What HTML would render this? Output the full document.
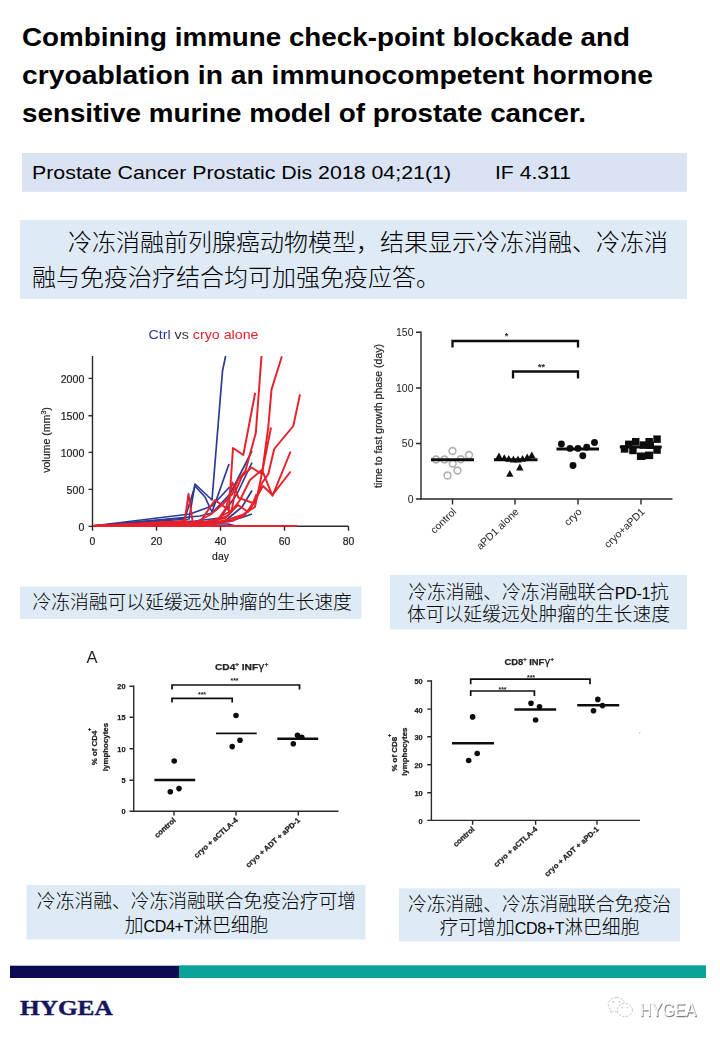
<!DOCTYPE html>
<html lang="zh">
<head>
<meta charset="utf-8">
<title>Combining immune check-point blockade and cryoablation</title>
<style>
html,body{margin:0;padding:0;background:#fff;}
body{width:720px;height:1040px;overflow:hidden;position:relative;}
svg{position:absolute;left:0;top:0;display:block;}
.lat{font-family:"Liberation Sans",sans-serif;}
.cjk{font-family:"Liberation Sans","Noto Sans CJK SC",sans-serif;font-weight:300;fill:#000;}
.ttl{font-family:"Liberation Sans",sans-serif;font-weight:bold;font-size:26px;fill:#000;}
.cap{font-size:18.8px;}
.en{font-size:16px;letter-spacing:-0.3px;}
.ax{stroke:#2a2a2a;stroke-width:1.4;fill:none;}
.tk{font-family:"Liberation Sans",sans-serif;fill:#222;}
.bd,.bd text{stroke:#222;stroke-width:0.25;}
.bd2 text{stroke:#222;stroke-width:0.2;}
</style>
</head>
<body>
<svg width="720" height="1040" viewBox="0 0 720 1040">
<defs><filter id="blur1" x="-5%" y="-5%" width="110%" height="110%"><feGaussianBlur stdDeviation="0.45"/></filter><filter id="blur2" x="-5%" y="-20%" width="110%" height="140%"><feGaussianBlur stdDeviation="0.35"/></filter></defs>
<!-- TITLE -->
<g id="title">
<text class="ttl" x="22" y="45.5" textLength="608" lengthAdjust="spacingAndGlyphs">Combining immune check-point blockade and</text>
<text class="ttl" x="22" y="83.5" textLength="631" lengthAdjust="spacingAndGlyphs">cryoablation in an immunocompetent hormone</text>
<text class="ttl" x="22" y="122" textLength="564" lengthAdjust="spacingAndGlyphs">sensitive murine model of prostate cancer.</text>
</g>
<!-- JOURNAL BOX -->
<g id="journal">
<rect x="22" y="153" width="665" height="38.8" fill="#dae3f3"/>
<text class="lat" x="32" y="179.3" font-size="19" fill="#000" textLength="419" lengthAdjust="spacingAndGlyphs">Prostate Cancer Prostatic Dis 2018 04;21(1)</text>
<text class="lat" x="495" y="179.3" font-size="19" fill="#000" textLength="76" lengthAdjust="spacingAndGlyphs">IF 4.311</text>
</g>
<!-- SUMMARY BOX -->
<g id="summary">
<rect x="20" y="220" width="667" height="78.9" fill="#deebf7"/>
<text class="cjk" x="68" y="251" font-size="24">冷冻消融前列腺癌动物模型，结果显示冷冻消融、冷冻消</text>
<text class="cjk" x="32" y="285.5" font-size="24">融与免疫治疗结合均可加强免疫应答。</text>
</g>
<!-- CHART1 -->
<g id="chart1" filter="url(#blur1)">
<text x="148.5" y="339" font-size="13.6" class="tk" textLength="110" lengthAdjust="spacingAndGlyphs"><tspan fill="#2b3a90">Ctrl</tspan><tspan fill="#333"> vs </tspan><tspan fill="#e8212b">cryo alone</tspan></text>
<g fill="none" stroke="#2d3a93" stroke-width="1.7" stroke-linejoin="round">
<polyline points="92,526 175,520 189,519 195,484 212,500 222.5,371 225.6,356"/>
<polyline points="92,526 185,518 195,486 205,497 212,512 229,464"/>
<polyline points="92,526 200,516 212,513 230,494 252,451"/>
<polyline points="92,526 195,521 220,518 237,494 252,462.5"/>
<polyline points="92,526 200,522 225,521 242,507 252,490.5"/>
<polyline points="92,526 205,524 233,520 242,517.5 252,514"/>
<polyline points="92,526 190,514 212,506 229.6,487"/>
<polyline points="92,526 200,524 228,524 236,526"/>
</g>
<g fill="none" stroke="#e8202a" stroke-width="1.95" stroke-linejoin="round">
<polyline points="92,526 181,522 185,519 188.5,494 193,524 215,520 228.7,512 233,448 243.3,455 255.2,392.7"/>
<polyline points="92,526 186,521 192,524 210,515 222,505 232.3,494 238,480 245.4,470.8 255.8,433 261.5,356"/>
<polyline points="92,526 186,523 200,522 215,500 231.4,512 235,492.4 242.2,476 251.5,467.5 262,474 268.3,427 271.5,389.6 281.9,356.3"/>
<polyline points="92,526 190,524 215,523 230,519 242.2,515 254.9,507 260.3,481.5 271,427.5"/>
<polyline points="92,526 195,525 225,518 238,505 248,512 256,500 262,483 268.3,474 274.2,449 293.3,426 300,394.4"/>
<polyline points="92,526 200,525 228,516 240,500 250,480 262,469.8 272.5,495.8 290.6,451.5"/>
<polyline points="92,526 205,525 232,521 245,515 255,500 263,486 272.5,495 290.6,471.5"/>
<polyline points="92,526 215,524 226,508 232.5,482.5 238.6,497.8 253,503 256.5,494"/>
<polyline points="92,526 297,526"/>
</g>
<g class="ax">
<path d="M92.5,356V527M297,526.3H348.5"/>
<path d="M88.5,526.4H92.5M88.5,489.4H92.5M88.5,452.4H92.5M88.5,415.7H92.5M88.5,378.4H92.5"/>
<path d="M92.5,526.3V530.8M156.5,526.3V530.8M220.5,526.3V530.8M284.5,526.3V530.8M348.5,526.3V530.8"/>
</g>
<g class="tk bd2" font-size="10.6" text-anchor="end">
<text x="84.3" y="530.6">0</text><text x="84.3" y="493.6">500</text><text x="84.3" y="456.6">1000</text><text x="84.3" y="420">1500</text><text x="84.3" y="382.6">2000</text>
</g>
<g class="tk bd2" font-size="10.4" text-anchor="middle">
<text x="92.5" y="544.5">0</text><text x="156.5" y="544.5">20</text><text x="220.5" y="544.5">40</text><text x="284.5" y="544.5">60</text><text x="348.5" y="544.5">80</text>
<text x="220.5" y="559.5">day</text>
<text transform="translate(49.6,440) rotate(-90)" font-size="10.6">volume (mm<tspan font-size="7" dy="-4">3</tspan><tspan dy="4">)</tspan></text>
</g>
</g>
<!-- CHART2 -->
<g id="chart2" filter="url(#blur1)">
<g class="ax" stroke-width="1.5">
<path d="M421,331.5V499.7M421,499H672.5"/>
<path d="M416,499H421M416,443.5H421M416,388H421M416,332.2H421"/>
<path d="M452.5,499V504.5M515,499V504.5M578,499V504.5M641,499V504.5"/>
</g>
<g class="tk" font-size="10.5" text-anchor="end">
<text x="413.5" y="503">0</text><text x="413.5" y="447.3">50</text><text x="413.5" y="392">100</text><text x="413.5" y="335.8">150</text>
</g>
<text class="tk" font-size="10.5" text-anchor="middle" transform="translate(382,416) rotate(-90)" textLength="144" lengthAdjust="spacingAndGlyphs" stroke="#222" stroke-width="0.2">time to fast growth phase (day)</text>
<g fill="none" stroke="#111" stroke-width="2.3">
<path d="M452.5,347.5V341H578V347.5"/>
<path d="M513,378.5V371.5H578V378.5"/>
</g>
<g class="tk" font-size="9" text-anchor="middle" font-weight="bold">
<text x="506.5" y="339">*</text><text x="541.5" y="369.5">**</text>
</g>
<g fill="#fff" stroke="#b0b0b0" stroke-width="1.6">
<circle cx="452.5" cy="451" r="3.4"/><circle cx="469" cy="455" r="3.4"/><circle cx="436" cy="459.5" r="3.4"/><circle cx="444.5" cy="459.5" r="3.4"/><circle cx="460.8" cy="459.3" r="3.4"/><circle cx="452.7" cy="463.6" r="3.4"/><circle cx="457.5" cy="470.5" r="3.4"/><circle cx="447.5" cy="475.5" r="3.4"/>
</g>
<g stroke="#111" stroke-width="2.9">
<path d="M431,459.8H474M494,459.8H537.5M556.5,449H599M619.8,447H661.7"/>
</g>
<g fill="#111">
<path d="M0,-4L3.7,2.8H-3.7Z" transform="translate(499,456.5)"/>
<path d="M0,-4L3.7,2.8H-3.7Z" transform="translate(504.3,458.2)"/>
<path d="M0,-4L3.7,2.8H-3.7Z" transform="translate(508.8,459)"/>
<path d="M0,-4L3.7,2.8H-3.7Z" transform="translate(513.4,459.6)"/>
<path d="M0,-4L3.7,2.8H-3.7Z" transform="translate(518,459.6)"/>
<path d="M0,-4L3.7,2.8H-3.7Z" transform="translate(522.6,459)"/>
<path d="M0,-4L3.7,2.8H-3.7Z" transform="translate(527.2,457.5)"/>
<path d="M0,-4L3.7,2.8H-3.7Z" transform="translate(531.8,455.5)"/>
<path d="M0,-4L3.7,2.8H-3.7Z" transform="translate(519.8,467.6)"/>
<path d="M0,-4L3.7,2.8H-3.7Z" transform="translate(509.8,474)"/>
<circle cx="561.4" cy="444" r="3.45"/><circle cx="594.5" cy="442.5" r="3.45"/><circle cx="570" cy="448.4" r="3.45"/><circle cx="578" cy="448.4" r="3.45"/><circle cx="586.7" cy="447.2" r="3.45"/><circle cx="582.8" cy="455.8" r="3.45"/><circle cx="573" cy="465.5" r="3.45"/>
<g><rect x="620.8" y="445.2" width="7.5" height="7.5"/><rect x="625" y="440.6" width="7.5" height="7.5"/><rect x="632" y="438" width="7.5" height="7.5"/><rect x="629.2" y="446.7" width="7.5" height="7.5"/><rect x="639.6" y="441.3" width="7.5" height="7.5"/><rect x="645.4" y="438" width="7.5" height="7.5"/><rect x="653.3" y="435.4" width="7.5" height="7.5"/><rect x="653.3" y="446.3" width="7.5" height="7.5"/><rect x="645" y="451.6" width="8.2" height="7.5"/><rect x="636.9" y="452.5" width="8.6" height="7.5"/><rect x="646.5" y="441.5" width="7.5" height="7.5"/></g>
</g>
<g class="tk" font-size="10.4" text-anchor="end">
<text transform="translate(457,512.5) rotate(-44)">control</text>
<text transform="translate(519.5,512.5) rotate(-44)">aPD1 alone</text>
<text transform="translate(582.5,512.5) rotate(-44)">cryo</text>
<text transform="translate(645.5,512.5) rotate(-44)">cryo+aPD1</text>
</g>
</g>
<!-- CAPTIONS ROW 1 -->
<g id="caps1">
<rect x="20" y="586.5" width="341.5" height="32.5" fill="#deebf7"/>
<text class="cjk cap" x="32.5" y="609">冷冻消融可以延缓远处肿瘤的生长速度</text>
<rect x="390" y="575" width="297" height="54.5" fill="#deebf7"/>
<text class="cjk cap" x="538.5" y="599" text-anchor="middle">冷冻消融、冷冻消融联合<tspan class="en">PD-1</tspan>抗</text>
<text class="cjk cap" x="538.5" y="621.4" text-anchor="middle">体可以延缓远处肿瘤的生长速度</text>
</g>
<!-- CHART3 -->
<g id="chart3" filter="url(#blur1)">
<text x="86.5" y="663.3" font-size="16.5" class="tk" fill="#222">A</text>
<text x="215" y="670.3" font-size="9.2" font-weight="bold" class="tk bd" textLength="53.3" lengthAdjust="spacingAndGlyphs">CD4<tspan font-size="5.6" dy="-4">+</tspan><tspan dy="4"> INF</tspan><tspan font-family="'DejaVu Sans',sans-serif" font-weight="normal" font-size="10">γ</tspan><tspan font-size="5.6" dy="-4">+</tspan></text>
<g class="ax" stroke-width="1.5">
<path d="M133.7,685.5V811.9M133.7,811.2H338.5"/>
<path d="M129.5,811.2H133.6M129.5,780.2H133.6M129.5,748.7H133.6M129.5,717.2H133.6M129.5,686.2H133.6"/>
<path d="M174,811V815.5M236,811V815.5M298.3,811V815.5"/>
</g>
<g class="tk bd" font-size="7.4" font-weight="bold" text-anchor="end">
<text x="125.6" y="814.1">0</text><text x="125.6" y="783.1">5</text><text x="125.6" y="751.6">10</text><text x="125.6" y="720.1">15</text><text x="125.6" y="689.1">20</text>
</g>
<g class="tk bd" font-size="7.9" font-weight="bold" text-anchor="middle">
<text transform="translate(96.7,748) rotate(-90)">% of CD4</text>
<text transform="translate(90.5,729.5) rotate(-90)" font-size="5.5">+</text>
<text transform="translate(107.5,747) rotate(-90)">lymphocytes</text>
</g>
<g fill="none" stroke="#111" stroke-width="1.7">
<path d="M172,689.5V685H299.5V689.5"/>
<path d="M172,702.5V698.3H232.2V702.5"/>
</g>
<g class="tk" font-size="7" text-anchor="middle" font-weight="bold">
<text x="234.5" y="683">***</text><text x="202" y="696.5">***</text>
</g>
<g stroke="#111" stroke-width="2.5">
<path d="M154.4,780H195.2M277.3,738.8H318.2"/><path d="M216,733.3H256.7" stroke-width="1.8"/>
</g>
<g fill="#111">
<circle cx="174.2" cy="761" r="2.8"/><circle cx="170.3" cy="791.7" r="2.8"/><circle cx="179" cy="788.6" r="2.8"/>
<circle cx="236" cy="715.5" r="2.8"/><circle cx="232.2" cy="746.6" r="2.8"/><circle cx="240" cy="740.3" r="2.8"/>
<circle cx="297.5" cy="735.3" r="2.8"/><circle cx="301.8" cy="737.2" r="2.8"/><circle cx="293.3" cy="743.8" r="2.8"/>
</g>
<g class="tk bd" font-size="7.6" font-weight="bold" text-anchor="end">
<text transform="translate(176.3,821) rotate(-42)">control</text>
<text transform="translate(238.3,821) rotate(-42)">cryo + aCTLA-4</text>
<text transform="translate(300.6,821) rotate(-42)">cryo + ADT + aPD-1</text>
</g>
</g>
<!-- CHART4 -->
<g id="chart4" filter="url(#blur1)">
<text x="504.4" y="665.3" font-size="9" font-weight="bold" class="tk bd" textLength="49.5" lengthAdjust="spacingAndGlyphs">CD8<tspan font-size="5.6" dy="-4">+</tspan><tspan dy="4"> INF</tspan><tspan font-family="'DejaVu Sans',sans-serif" font-weight="normal" font-size="10">γ</tspan><tspan font-size="5.6" dy="-4">+</tspan></text>
<g class="ax" stroke-width="1.5">
<path d="M431.4,680.3V821.1M431.4,820.4H640"/>
<path d="M427.2,820.4H431.4M427.2,792.8H431.4M427.2,764.8H431.4M427.2,736.7H431.4M427.2,709.1H431.4M427.2,681H431.4"/>
<path d="M472.6,820.4V824.7M535.6,820.4V824.7M597,820.4V824.7"/>
</g>
<g class="tk bd" font-size="7.4" font-weight="bold" text-anchor="end">
<text x="422.7" y="823.9">0</text><text x="422.7" y="796.3">10</text><text x="422.7" y="768.3">20</text><text x="422.7" y="740.2">30</text><text x="422.7" y="712.6">40</text><text x="422.7" y="684.4">50</text>
</g>
<g class="tk bd" font-size="7.9" font-weight="bold" text-anchor="middle">
<text transform="translate(397.4,754.3) rotate(-90)">% of CD8</text>
<text transform="translate(391,735.5) rotate(-90)" font-size="5.5">+</text>
<text transform="translate(406.7,751.7) rotate(-90)">lymphocytes</text>
</g>
<g fill="none" stroke="#111" stroke-width="1.7">
<path d="M470.7,684.2V679.2H590V684.2"/>
<path d="M470.7,696V691H534.4V696"/>
</g>
<g class="tk" font-size="7" text-anchor="middle" font-weight="bold">
<text x="531" y="680.3">***</text><text x="502.5" y="692.3">***</text>
</g>
<g stroke="#111" stroke-width="2.4">
<path d="M452,743.3H494M514.4,709.5H556.2M577.2,705.2H619.2"/>
</g>
<g fill="#111">
<circle cx="472.6" cy="716.9" r="2.8"/><circle cx="468.7" cy="760.5" r="2.8"/><circle cx="477.2" cy="753.5" r="2.8"/>
<circle cx="531" cy="703.3" r="2.8"/><circle cx="539.5" cy="706.8" r="2.8"/><circle cx="535.6" cy="720" r="2.8"/>
<circle cx="597.8" cy="699.4" r="2.8"/><circle cx="602.5" cy="705.6" r="2.8"/><circle cx="593.5" cy="710.7" r="2.8"/>
<circle cx="639.8" cy="732.8" r="0.6" fill="#888"/>
</g>
<g class="tk bd" font-size="7.6" font-weight="bold" text-anchor="end">
<text transform="translate(475,830) rotate(-42)">control</text>
<text transform="translate(538,830) rotate(-42)">cryo + aCTLA-4</text>
<text transform="translate(599.4,830) rotate(-42)">cryo + ADT + aPD-1</text>
</g>
</g>
<!-- CAPTIONS ROW 2 -->
<g id="caps2">
<rect x="26.5" y="885" width="339" height="54.5" fill="#deebf7"/>
<text class="cjk cap" x="196.5" y="908" text-anchor="middle">冷冻消融、冷冻消融联合免疫治疗可增</text>
<text class="cjk cap" x="196.5" y="931.5" text-anchor="middle">加<tspan class="en">CD4+T</tspan>淋巴细胞</text>
<rect x="399" y="888.3" width="281" height="53" fill="#deebf7"/>
<text class="cjk cap" x="539.5" y="911" text-anchor="middle">冷冻消融、冷冻消融联合免疫治</text>
<text class="cjk cap" x="539.5" y="934" text-anchor="middle">疗可增加<tspan class="en">CD8+T</tspan>淋巴细胞</text>
</g>
<!-- FOOTER -->
<g id="footer">
<rect x="10" y="965.7" width="169" height="12.3" fill="#0b0b55"/>
<rect x="179" y="965.3" width="527" height="12.7" fill="#08a296"/>
<text x="20" y="1014.6" font-family="'Liberation Serif',serif" font-weight="bold" font-size="20.5" fill="#15155e" stroke="#15155e" stroke-width="0.4" textLength="92.7" lengthAdjust="spacingAndGlyphs">HYGEA</text>
</g>
<!-- WATERMARK -->
<g id="wm" filter="url(#blur2)">
<g fill="#fff" stroke="#bdbdbd" stroke-width="0.9" stroke-dasharray="2.2 1.6">
<path d="M616.5,997.5c-4.6,0-8.3,3.2-8.3,7.1c0,2.2,1.2,4.2,3,5.5l-0.9,2.9l3.3-1.7c0.9,0.3,1.9,0.4,2.9,0.4"/>
<path d="M616.5,997.5c4.300,0,7.800,2.700,8.200,6.200"/>
<ellipse cx="624.8" cy="1010" rx="7.6" ry="6.6"/>
</g>
<g fill="#c4c4c4"><circle cx="613.2" cy="1001.8" r="0.9"/><circle cx="619.3" cy="1001.8" r="0.9"/><circle cx="622.3" cy="1007.7" r="0.8"/><circle cx="627.3" cy="1007.7" r="0.8"/></g>
<text x="640.6" y="1016.6" font-family="'Liberation Sans',sans-serif" font-size="18.3" fill="#7a7a7a" stroke="#8a8a8a" stroke-width="0.3" textLength="56.5" lengthAdjust="spacingAndGlyphs">HYGEA</text>
<text x="639.9" y="1016" font-family="'Liberation Sans',sans-serif" font-size="18.3" fill="#fdfdfd" textLength="56.5" lengthAdjust="spacingAndGlyphs">HYGEA</text>
</g>
</svg>
</body>
</html>
